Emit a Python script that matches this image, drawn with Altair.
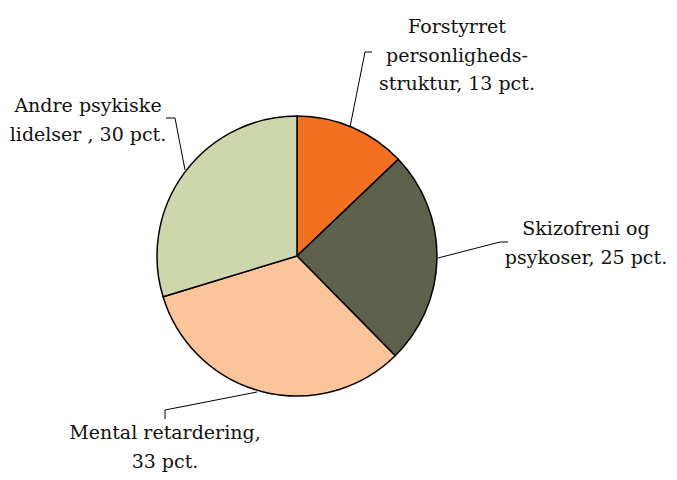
import altair as alt
import pandas as pd

# ---- data ----
categories = ["Forstyrret personligheds-struktur", "Skizofreni og psykoser",
              "Mental retardering", "Andre psykiske lidelser"]
values = [13, 25, 33, 30]
label_lines = [
    ["Forstyrret", "personligheds-", "struktur, 13 pct."],
    ["Skizofreni og", "psykoser, 25 pct."],
    ["Mental retardering,", "33 pct."],
    ["Andre psykiske", "lidelser , 30 pct."],
]
colors = ["#F37021", "#5E614B", "#FBC49A", "#CED6AC"]

# ---- layout (chart pixel coordinates) ----
W, H = 661, 464
CX, CY, R = 289, 248, 140
label_pos = [(449, 25), (578, 227), (157, 431), (80, 104)]  # first-line baseline
leaders = [
    [(342, 119), (357, 44), (364, 44)],
    [(430, 250), (492, 234), (500, 234)],
    [(249, 384), (157, 402), (157, 411)],
    [(177, 162), (167, 110), (158, 110)],
]

pie_df = pd.DataFrame({"cat": categories, "val": values, "ord": list(range(len(values)))})

pie = alt.Chart(pie_df).mark_arc(radius=R, stroke="black", strokeWidth=1.5).encode(
    theta=alt.Theta("val:Q", stack=True),
    color=alt.Color("cat:N", scale=alt.Scale(domain=categories, range=colors), legend=None),
    order=alt.Order("ord:Q"),
    x=alt.value(CX),
    y=alt.value(CY),
)

xs = alt.Scale(domain=[0, W], range=[0, W])
ys = alt.Scale(domain=[0, H], range=[0, H])

rows = []
for i, pts in enumerate(leaders):
    for j, (px, py) in enumerate(pts):
        rows.append({"g": i, "o": j, "px": px, "py": py})
lead_df = pd.DataFrame(rows)

lines = alt.Chart(lead_df).mark_line(color="black", strokeWidth=1).encode(
    x=alt.X("px:Q", scale=xs, axis=None),
    y=alt.Y("py:Q", scale=ys, axis=None),
    detail="g:N",
    order="o:Q",
)

lab_df = pd.DataFrame({
    "txt": label_lines,
    "lx": [p[0] for p in label_pos],
    "ly": [p[1] for p in label_pos],
})

labels = alt.Chart(lab_df).mark_text(
    font="DejaVu Serif", fontSize=19, color="#111111", align="center",
    baseline="alphabetic", lineHeight=28.5,
).encode(
    x=alt.X("lx:Q", scale=xs, axis=None),
    y=alt.Y("ly:Q", scale=ys, axis=None),
    text="txt",
)

chart = alt.layer(pie, lines, labels).properties(
    width=W, height=H, autosize="none", padding=0
).configure_view(stroke=None)

chart.save("out.html", embed_options={"renderer": "svg", "actions": False})
